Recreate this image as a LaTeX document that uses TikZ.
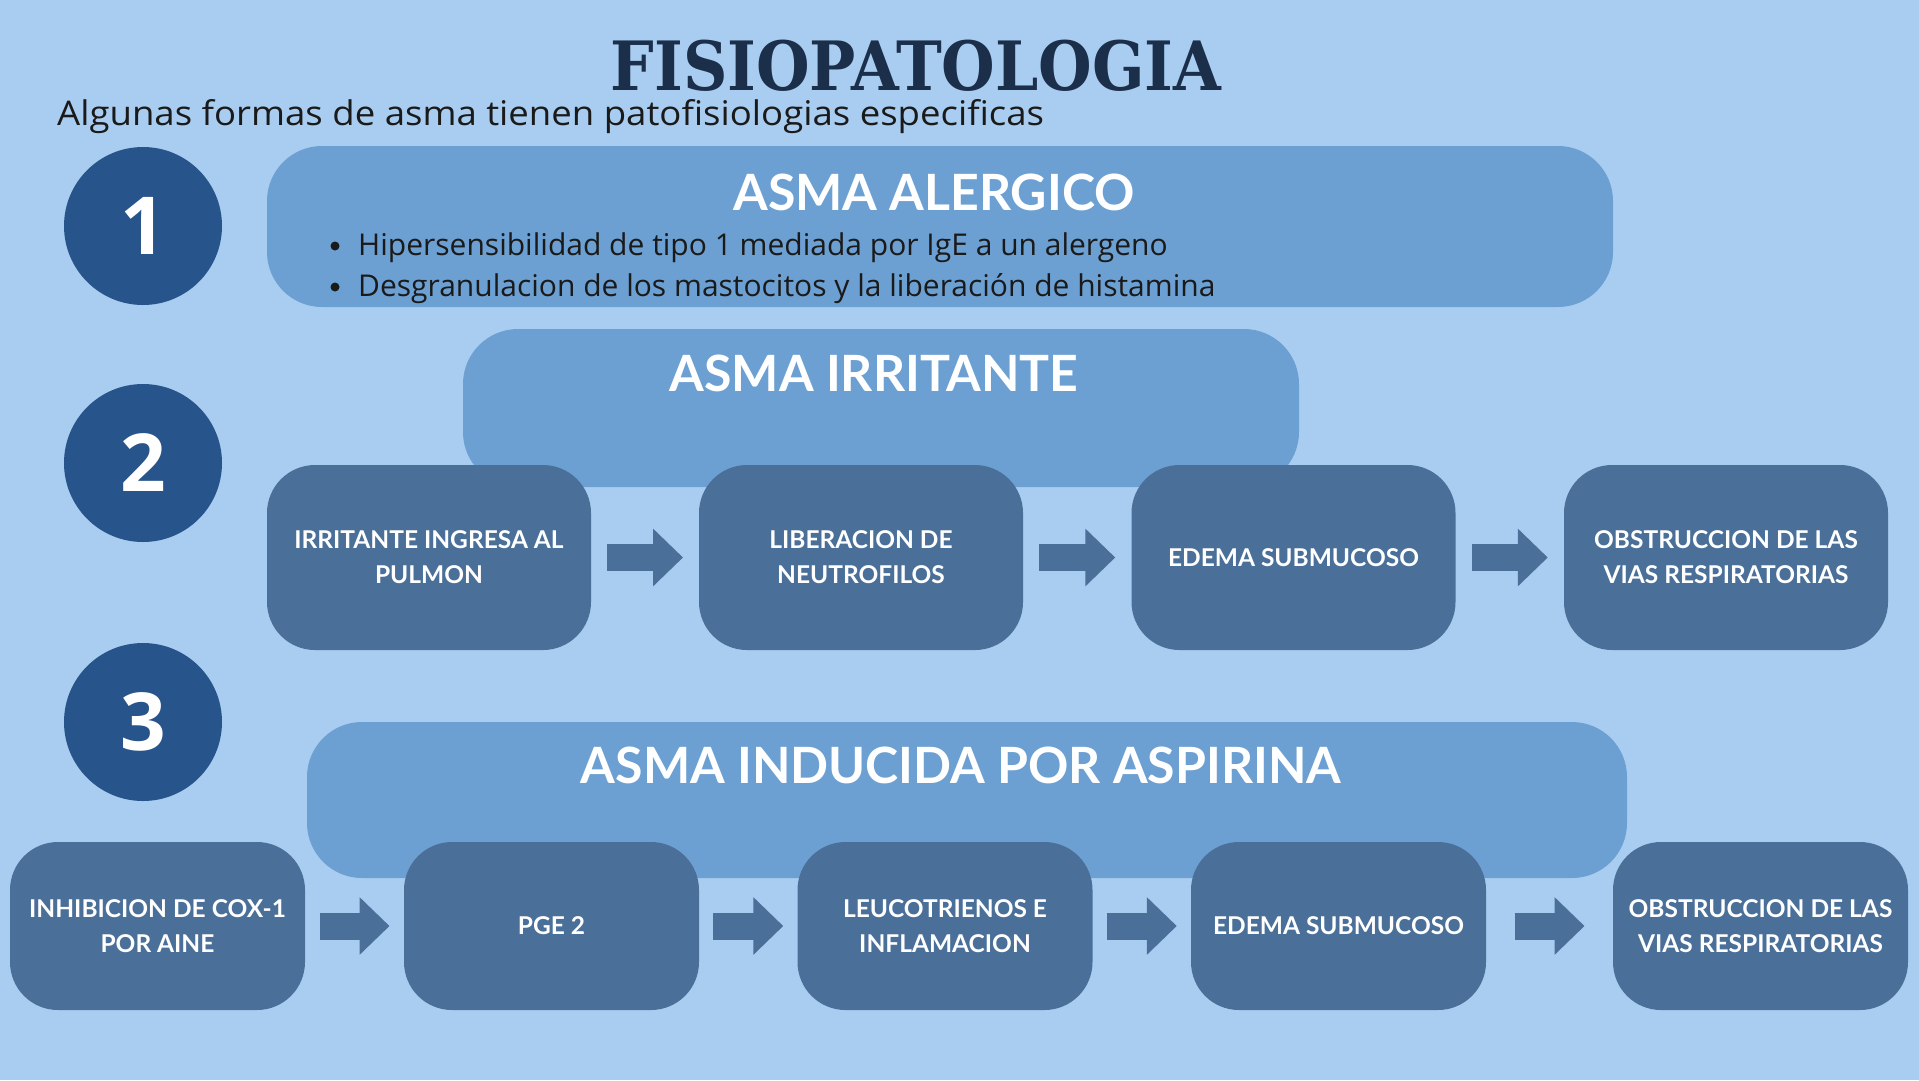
\documentclass[tikz,border=0pt]{standalone}
\usepackage{fontspec}
\setmainfont{Open Sans}
\newfontfamily\headfont{Lato}
\newfontfamily\titlefont{DejaVu Serif}
\usetikzlibrary{arrows.meta,calc}
\definecolor{bg}{HTML}{A9CDF0}
\definecolor{hdr}{HTML}{6CA0D2}
\definecolor{stepc}{HTML}{4A7099}
\definecolor{circ}{HTML}{27548A}
\definecolor{titlec}{HTML}{1B2F4B}
\definecolor{subc}{HTML}{1A1A1A}
\begin{document}
\begin{tikzpicture}[x=1pt,y=-1pt,
  hdrbox/.style={fill=hdr, rounded corners=55pt, draw=none, inner sep=0pt},
  hdrtitle/.style={text=white, font=\headfont\bfseries\fontsize{50}{60}\selectfont, inner sep=0pt},
  stepbox/.style={fill=stepc, rounded corners=48pt, text=white, font=\headfont\bfseries\fontsize{24.5}{35}\selectfont, align=center, inner sep=0pt},
  numcirc/.style={circle, fill=circ, minimum size=158pt, inner sep=0pt, text=white, font=\bfseries\fontsize{80}{80}\selectfont},
  blockarr/.style={draw=stepc, line width=27pt, -{Triangle[length=30pt,width=56pt]}},
  bullettext/.style={anchor=base west, inner sep=0pt, text=subc, font=\fontsize{30}{34}\selectfont},
  bulletdot/.style={circle, fill=subc, minimum size=9pt, inner sep=0pt}
]
\fill[bg] (0,0) rectangle (1919,1080);

% title
\node[anchor=base, inner sep=0pt, text=titlec, font=\titlefont\bfseries\fontsize{68}{70}\selectfont] (title) at (916,90) {\scalebox{0.905}[1]{FISIOPATOLOGIA}};
\node[anchor=base west, inner sep=0pt, text=subc, font=\fontsize{34}{40}\selectfont] (sub) at (57,125) {\scalebox{1.075}[1]{Algunas formas de asma tienen patofisiologias especificas}};

% number circles
\node[numcirc] (n1) at (143,226) {1};
\node[numcirc] (n2) at (143,463) {2};
\node[numcirc] (n3) at (143,722) {3};

% header boxes
\node[hdrbox, minimum width=1346pt, minimum height=161pt] (alerg) at (940,226.5) {};
\node[hdrtitle] (alergt) at (934,192) {ASMA ALERGICO};
\node[bulletdot] (d1) at (335,246) {};
\node[bullettext] (b1) at (358,255) {Hipersensibilidad de tipo 1 mediada por IgE a un alergeno};
\node[bulletdot] (d2) at (335,287) {};
\node[bullettext] (b2) at (358,296) {Desgranulacion de los mastocitos y la liberación de histamina};

\node[hdrbox, minimum width=836pt, minimum height=158pt] (irrit) at (881,408) {};
\node[hdrtitle] (irritt) at (874,373) {ASMA IRRITANTE};

\node[hdrbox, minimum width=1320pt, minimum height=156pt] (aspir) at (967,800) {};
\node[hdrtitle] (aspirt) at (961,765) {ASMA INDUCIDA POR ASPIRINA};

% row 2
\begin{scope}[every node/.style={stepbox, minimum width=324pt, minimum height=185pt}]
\node (r1) at (429,557.5) {IRRITANTE INGRESA AL\\PULMON};
\node (r2) at (861,557.5) {LIBERACION DE\\NEUTROFILOS};
\node (r3) at (1293.5,557.5) {EDEMA SUBMUCOSO};
\node (r4) at (1726,557.5) {OBSTRUCCION DE LAS\\VIAS RESPIRATORIAS};
\end{scope}

% row 3
\begin{scope}[every node/.style={stepbox, minimum width=295pt, minimum height=168pt}]
\node (s1) at (157.5,926) {INHIBICION DE COX-1\\POR AINE};
\node (s2) at (551.5,926) {PGE 2};
\node (s3) at (945,926) {LEUCOTRIENOS E\\INFLAMACION};
\node (s4) at (1338.5,926) {EDEMA SUBMUCOSO};
\node (s5) at (1760.5,926) {OBSTRUCCION DE LAS\\VIAS RESPIRATORIAS};
\end{scope}

% arrows
\foreach \a/\b in {r1/r2,r2/r3,r3/r4}{
  \draw[blockarr] ($(\a.east)!0.5!(\b.west)+(-38,0)$) -- ($(\a.east)!0.5!(\b.west)+(38,0)$);
}
\foreach \a/\b in {s1/s2,s2/s3,s3/s4,s4/s5}{
  \draw[blockarr] ($(\a.east)!0.5!(\b.west)+(-35,0)$) -- ($(\a.east)!0.5!(\b.west)+(35,0)$);
}
\end{tikzpicture}
\end{document}
